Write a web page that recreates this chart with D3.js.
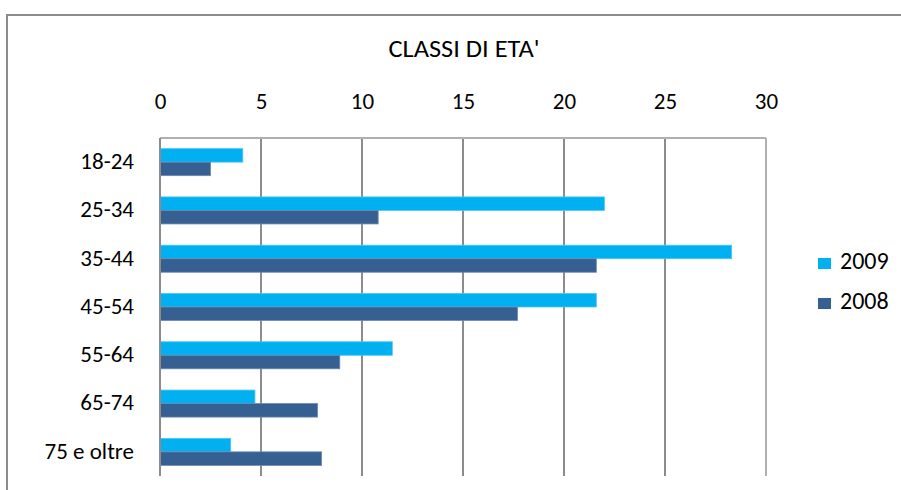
<!DOCTYPE html>
<html><head><meta charset="utf-8">
<script src="https://cdn.jsdelivr.net/npm/d3@7"></script>
<style>body{margin:0;background:#fff}svg{display:block}text{font-family:Carlito,Lato,"Open Sans",sans-serif;fill:#000}</style>
</head><body>
<script>
const categories = ["18-24","25-34","35-44","45-54","55-64","65-74","75 e oltre"];
const series = ["2009","2008"];
const values2009 = [4.1,22.0,28.3,21.6,11.5,4.7,3.5];
const values2008 = [2.5,10.8,21.6,17.7,8.9,7.8,8.0];
const tickValues = [0,5,10,15,20,25,30];
const title = "CLASSI DI ETA'";
const colors = {"2009":"#00B0F0","2008":"#376092"};
const strokes = {"2009":"#4DC8F5","2008":"#6A88B0"};

const W=901,H=490;
const FONT="Carlito,Lato,sans-serif";
const svg=d3.select("body").append("svg").attr("width",W).attr("height",H);
svg.append("rect").attr("x",7).attr("y",15).attr("width",W).attr("height",H).attr("fill","#fff").attr("stroke","#8c8c8c").attr("stroke-width",2);

const m={left:160,right:766,top:138,bottom:476};
const x=d3.scaleLinear().domain([0,30]).range([m.left,m.right]);
const y=d3.scaleBand().domain(categories).range([m.top,m.bottom]).paddingInner(0.44).paddingOuter(0.22);
const ys=d3.scaleBand().domain(series).range([0,y.bandwidth()]);

// grid
svg.append("g").selectAll("line").data(tickValues.slice(1)).join("line")
 .attr("x1",d=>x(d)).attr("x2",d=>x(d)).attr("y1",m.top).attr("y2",m.bottom)
 .attr("stroke",d=>d===30?"#b0b0b0":"#8c8c8c").attr("stroke-width",2);
svg.append("line").attr("x1",m.left).attr("x2",m.right).attr("y1",m.top).attr("y2",m.top).attr("stroke","#b0b0b0").attr("stroke-width",2);

// bars
const data=categories.map((c,i)=>({c,v:{"2009":values2009[i],"2008":values2008[i]}}));
const g=svg.append("g");
data.forEach(d=>{
  series.forEach(s=>{
    g.append("rect").attr("x",x(0)).attr("y",y(d.c)+ys(s)).attr("width",x(d.v[s])-x(0)).attr("height",ys.bandwidth())
     .attr("fill",colors[s]).attr("stroke",strokes[s]).attr("stroke-width",0.8);
  });
});
// left axis line
svg.append("line").attr("x1",m.left).attr("x2",m.left).attr("y1",m.top).attr("y2",m.bottom).attr("stroke","#8c8c8c").attr("stroke-width",2);

// top axis labels
const ax=d3.axisTop(x).tickValues(tickValues).tickSize(0).tickPadding(0);
const axg=svg.append("g").attr("transform","translate(0,109)").call(ax);
axg.select(".domain").remove();
axg.selectAll("text").attr("dy",0).style("font-size","23px").attr("fill","#000").style("font-family",FONT);

// category labels
const ay=d3.axisLeft(y).tickSize(0).tickPadding(26);
const ayg=svg.append("g").attr("transform",`translate(${m.left},0)`).call(ay);
ayg.select(".domain").remove();
ayg.selectAll("text").attr("dy","0.3em").style("font-size","23px").attr("fill","#000").style("font-family",FONT);

// title
svg.append("text").attr("transform","translate(464,56.5) scale(1.1,1)").attr("text-anchor","middle").style("font-size","24px").text(title);

// legend
const leg=svg.append("g");
series.forEach((s,i)=>{
  const yy=269+i*40;
  leg.append("rect").attr("x",818).attr("y",yy-11).attr("width",13).attr("height",11).attr("fill",colors[s]);
  leg.append("text").attr("x",840).attr("y",yy).style("font-size","24px").text(s);
});
</script>
</body></html>
